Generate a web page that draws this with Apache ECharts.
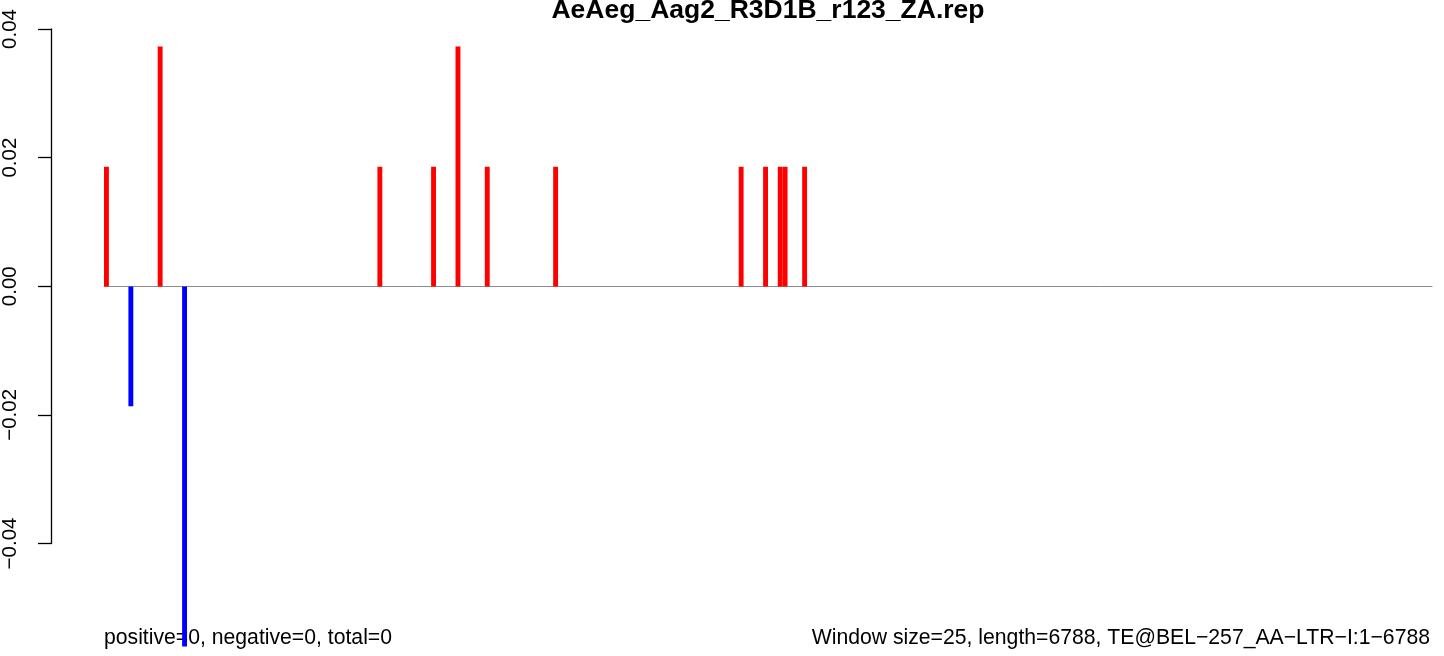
<!DOCTYPE html>
<html>
<head>
<meta charset="utf-8">
<script src="https://cdn.jsdelivr.net/npm/echarts@6/dist/echarts.min.js"></script>
<style>
html,body{margin:0;padding:0;background:#fff;}
#chart{width:1444px;height:656px;}
</style>
</head>
<body>
<div id="chart"></div>
<script>
// ---- data ----
const title = "AeAeg_Aag2_R3D1B_r123_ZA.rep";
const nWindows = 272; // length 6788 / window 25
const posBins = [0, 11, 56, 67, 72, 78, 92, 130, 135, 138, 139, 143];
const posVals = [0.0186, 0.0373, 0.0186, 0.0186, 0.0373, 0.0186, 0.0186, 0.0186, 0.0186, 0.0186, 0.0186, 0.0186];
const negBins = [5, 16];
const negVals = [-0.0186, -0.0559];
const yTicks = [-0.04, -0.02, 0.00, 0.02, 0.04];
const leftNote = "positive=0, negative=0, total=0";
const rightNote = "Window size=25, length=6788, TE@BEL\u2212257_AA\u2212LTR\u2212I:1\u22126788";

// ---- build ----
const cats = Array.from({length: nWindows}, (_, i) => String(i + 1));
const posData = new Array(nWindows).fill(null);
posBins.forEach((b, i) => { posData[b] = posVals[i]; });
const negData = new Array(nWindows).fill(null);
negBins.forEach((b, i) => { negData[b] = negVals[i]; });

const fmt = v => {
  const a = Math.abs(v).toFixed(2);
  return (v < -1e-9 ? '\u2212' : '') + a;
};

const chart = echarts.init(document.getElementById('chart'), null, {renderer: 'canvas'});
const FONT = '"Liberation Sans", Arial, Helvetica, sans-serif';
chart.setOption({
  backgroundColor: '#ffffff',
  animation: false,
  grid: [
    {left: 104, right: 12, top: 29, bottom: 9.6, containLabel: false},
    {left: 51, width: 10, top: 29, bottom: 112.5, containLabel: false}
  ],
  xAxis: [
    {type: 'category', gridIndex: 0, data: cats, boundaryGap: true,
     axisLine: {show: true, onZero: true, lineStyle: {color: '#8c8c8c', width: 1}},
     axisTick: {show: false}, axisLabel: {show: false}, splitLine: {show: false}},
    {type: 'value', gridIndex: 1, show: false, min: 0, max: 1}
  ],
  yAxis: [
    {type: 'value', gridIndex: 0, min: -0.0559, max: 0.04, show: false, splitLine: {show: false}},
    {type: 'value', gridIndex: 1, min: yTicks[0], max: yTicks[yTicks.length - 1], interval: 0.02,
     axisLine: {show: true, lineStyle: {color: '#000', width: 1.3}},
     axisTick: {show: true, length: 13, lineStyle: {color: '#000', width: 1.3}},
     splitLine: {show: false},
     axisLabel: {show: true, rotate: 90, margin: 30, fontSize: 20.5, color: '#000',
                 fontFamily: FONT, formatter: fmt}}
  ],
  series: [
    {type: 'bar', xAxisIndex: 0, yAxisIndex: 0, stack: 's', data: posData,
     barCategoryGap: '0%', itemStyle: {color: '#ff0000'}, z: 5, silent: true},
    {type: 'bar', xAxisIndex: 0, yAxisIndex: 0, stack: 's', data: negData,
     barCategoryGap: '0%', itemStyle: {color: '#0000ff'}, z: 5, silent: true}
  ],
  graphic: [
    {type: 'text', x: 768, y: 11, z: 1,
     style: {text: title, fontSize: 26.5, fontWeight: 'bold', fontFamily: FONT, fill: '#000',
             align: 'center', verticalAlign: 'middle'}},
    {type: 'text', x: 104, y: 638, z: 1,
     style: {text: leftNote, fontSize: 21.2, fontFamily: FONT, fill: '#000',
             align: 'left', verticalAlign: 'middle'}},
    {type: 'text', x: 1430, y: 638, z: 1,
     style: {text: rightNote, fontSize: 21.2, fontFamily: FONT, fill: '#000',
             align: 'right', verticalAlign: 'middle'}}
  ]
});
</script>
</body>
</html>
